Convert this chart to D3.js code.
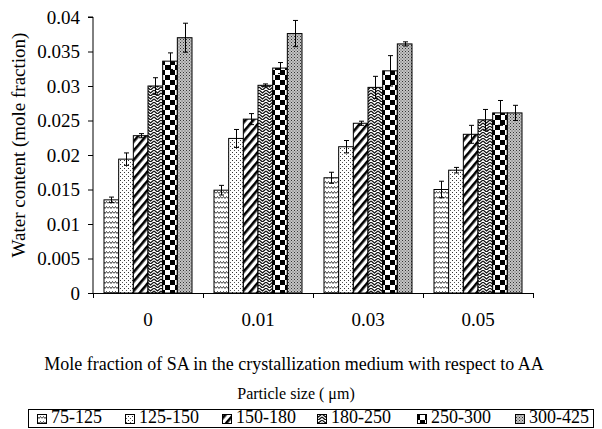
<!DOCTYPE html>
<html>
<head>
<meta charset="utf-8">
<script src="https://cdn.jsdelivr.net/npm/d3@7"></script>
<style>
  body { margin: 0; background: #fff; }
  svg { font-family: "Liberation Serif", "Times New Roman", serif; }
</style>
</head>
<body>
<div id="chart"></div>
<script>
// Data
const categories = ["0", "0.01", "0.03", "0.05"];
const sizes = ["75-125", "125-150", "150-180", "180-250", "250-300", "300-425"];
// water content per particle size, one value per category
const s75 = [0.0135, 0.0149, 0.0167, 0.0150];
const s125 = [0.0194, 0.0224, 0.0212, 0.0178];
const s150 = [0.0228, 0.0252, 0.0246, 0.0230];
const s180 = [0.0300, 0.0301, 0.0298, 0.0251];
const s250 = [0.0336, 0.0326, 0.0322, 0.0261];
const s300 = [0.0370, 0.0376, 0.0361, 0.0261];
// error bar half widths
const e75 = [0.0004, 0.0007, 0.0008, 0.0012];
const e125 = [0.0009, 0.0013, 0.0009, 0.0004];
const e150 = [0.0003, 0.0008, 0.0003, 0.0013];
const e180 = [0.0012, 0.0002, 0.0016, 0.0015];
const e250 = [0.0012, 0.0008, 0.0022, 0.0018];
const e300 = [0.0021, 0.0019, 0.0003, 0.0011];
const yTicks = [0, 0.005, 0.01, 0.015, 0.02, 0.025, 0.03, 0.035, 0.04];
const yTickLabels = ["0", "0.005", "0.01", "0.015", "0.02", "0.025", "0.03", "0.035", "0.04"];

const values = [s75, s125, s150, s180, s250, s300];
const errors = [e75, e125, e150, e180, e250, e300];

const width = 602;
const height = 429;
const margin = { top: 17, left: 93, right: 69, bottom: 136 };

const svg = d3.select("#chart").append("svg")
  .attr("width", width)
  .attr("height", height);

// Fill patterns, one per particle size
const defs = svg.append("defs");

const p1 = defs.append("pattern").attr("id", "pat0")
  .attr("patternUnits", "userSpaceOnUse").attr("width", 6).attr("height", 5);
p1.append("rect").attr("width", 6).attr("height", 5).attr("fill", "#fff");
p1.append("path").attr("d", "M0,3.5 L1.5,1.5 L3,3.5 L4.5,1.5 L6,3.5")
  .attr("fill", "none").attr("stroke", "#222").attr("stroke-width", 0.9);

const p2 = defs.append("pattern").attr("id", "pat1")
  .attr("patternUnits", "userSpaceOnUse").attr("width", 4).attr("height", 4);
p2.append("rect").attr("width", 4).attr("height", 4).attr("fill", "#fff");
p2.append("rect").attr("x", 0).attr("y", 0).attr("width", 1).attr("height", 1).attr("fill", "#333");
p2.append("rect").attr("x", 2).attr("y", 2).attr("width", 1).attr("height", 1).attr("fill", "#555");

const p3 = defs.append("pattern").attr("id", "pat2")
  .attr("patternUnits", "userSpaceOnUse").attr("width", 6).attr("height", 6)
  .attr("patternTransform", "rotate(40)");
p3.append("rect").attr("width", 6).attr("height", 6).attr("fill", "#fff");
p3.append("rect").attr("x", 0).attr("y", 0).attr("width", 2.6).attr("height", 6).attr("fill", "#000");

const p4 = defs.append("pattern").attr("id", "pat3")
  .attr("patternUnits", "userSpaceOnUse").attr("width", 7).attr("height", 6);
p4.append("rect").attr("width", 7).attr("height", 6).attr("fill", "#fff");
p4.append("path").attr("d", "M0,0 L3.5,3 L7,0 M0,3 L3.5,6 L7,3")
  .attr("fill", "none").attr("stroke", "#111").attr("stroke-width", 1.3);

const p5 = defs.append("pattern").attr("id", "pat4")
  .attr("patternUnits", "userSpaceOnUse").attr("width", 10).attr("height", 10);
p5.append("rect").attr("width", 10).attr("height", 10).attr("fill", "#fff");
p5.append("rect").attr("x", 0).attr("y", 0).attr("width", 5).attr("height", 5).attr("fill", "#000");
p5.append("rect").attr("x", 5).attr("y", 5).attr("width", 5).attr("height", 5).attr("fill", "#000");

const p6 = defs.append("pattern").attr("id", "pat5")
  .attr("patternUnits", "userSpaceOnUse").attr("width", 3).attr("height", 3);
p6.append("rect").attr("width", 3).attr("height", 3).attr("fill", "#c4c4c4");
p6.append("rect").attr("x", 0).attr("y", 0).attr("width", 1).attr("height", 1).attr("fill", "#333");
p6.append("rect").attr("x", 1.5).attr("y", 1.5).attr("width", 1).attr("height", 1).attr("fill", "#555");

// Scales
const x0 = d3.scaleBand()
  .domain(categories)
  .range([margin.left, width - margin.right])
  .paddingInner(0.2)
  .paddingOuter(0.1);

const x1 = d3.scaleBand()
  .domain(sizes)
  .range([0, x0.bandwidth()]);

const y = d3.scaleLinear()
  .domain([0, 0.04])
  .range([height - margin.bottom, margin.top]);

// Bars
const rows = [];
categories.forEach((c, ci) => {
  sizes.forEach((s, si) => {
    rows.push({ cat: c, size: s, si: si, v: values[si][ci], e: errors[si][ci] });
  });
});

svg.append("g").selectAll("rect")
  .data(rows)
  .enter()
  .append("rect")
  .attr("x", (d) => x0(d.cat) + x1(d.size))
  .attr("y", (d) => y(d.v))
  .attr("width", x1.bandwidth())
  .attr("height", (d) => y(0) - y(d.v))
  .attr("fill", (d) => `url(#pat${d.si})`)
  .attr("stroke", "#000")
  .attr("stroke-width", 1);

// Error bars
const err = svg.append("g").attr("stroke", "#000").attr("stroke-width", 1);
rows.forEach((d) => {
  const cx = Math.round(x0(d.cat) + x1(d.size) + x1.bandwidth() / 2) + 0.5;
  err.append("line").attr("x1", cx).attr("x2", cx)
    .attr("y1", y(d.v + d.e)).attr("y2", y(d.v - d.e));
  err.append("line").attr("x1", cx - 2.5).attr("x2", cx + 2.5)
    .attr("y1", y(d.v + d.e)).attr("y2", y(d.v + d.e));
  err.append("line").attr("x1", cx - 2.5).attr("x2", cx + 2.5)
    .attr("y1", y(d.v - d.e)).attr("y2", y(d.v - d.e));
});

// Y axis
const yAxis = d3.axisLeft(y)
  .tickValues(yTicks)
  .tickFormat((d, i) => yTickLabels[i])
  .tickSize(5)
  .tickPadding(8);

svg.append("g")
  .attr("transform", `translate(${margin.left}, 0)`)
  .call(yAxis)
  .call((g) => g.select(".domain").attr("d", `M-5,${y(0.04)}H0V${y(0)}`))
  .call((g) => g.selectAll("text")
    .attr("font-family", "Liberation Serif").attr("font-size", 19).attr("fill", "#000"));

// X axis with ticks between the groups
const xAxis = d3.axisBottom(x0).tickSize(0).tickPadding(0);
svg.append("g")
  .attr("transform", `translate(0, ${y(0)})`)
  .call(xAxis)
  .call((g) => g.select(".domain").remove())
  .call((g) => g.selectAll("text")
    .attr("y", 33).attr("dy", 0)
    .attr("font-family", "Liberation Serif").attr("font-size", 19).attr("fill", "#000"));

const half = x0.step() * x0.paddingInner() / 2;
const bounds = categories.map((c) => x0(c) - half).concat([x0(categories[3]) + x0.bandwidth() + half]);
svg.append("line")
  .attr("x1", bounds[0]).attr("x2", bounds[bounds.length - 1])
  .attr("y1", y(0) + 0.5).attr("y2", y(0) + 0.5)
  .attr("stroke", "#000");
svg.append("g").selectAll("line")
  .data(bounds)
  .enter()
  .append("line")
  .attr("x1", (d) => Math.round(d) + 0.5).attr("x2", (d) => Math.round(d) + 0.5)
  .attr("y1", y(0)).attr("y2", y(0) + 5)
  .attr("stroke", "#000");

// Axis titles
svg.append("text")
  .attr("transform", "translate(25, 145) rotate(-90)")
  .attr("text-anchor", "middle")
  .attr("font-size", 19)
  .text("Water content (mole fraction)");

svg.append("text")
  .attr("x", 294).attr("y", 370)
  .attr("text-anchor", "middle")
  .attr("font-size", 18)
  .text("Mole fraction of SA in the crystallization medium with respect to AA");

svg.append("text")
  .attr("x", 296).attr("y", 399)
  .attr("text-anchor", "middle")
  .attr("font-size", 16)
  .text("Particle size ( μm)");

// Legend
const legendX = [37, 125, 222, 317, 417, 515];
const legend = svg.append("g");
legend.append("rect")
  .attr("x", 28.5).attr("y", 409.5)
  .attr("width", 565).attr("height", 18)
  .attr("fill", "none").attr("stroke", "#000");

sizes.forEach((s, i) => {
  legend.append("rect")
    .attr("x", legendX[i] + 0.5).attr("y", 414.5)
    .attr("width", 9).attr("height", 9)
    .attr("fill", `url(#pat${i})`)
    .attr("stroke", "#000");
  legend.append("text")
    .attr("x", legendX[i] + 14).attr("y", 423)
    .attr("font-size", 18)
    .text(s);
});
</script>
</body>
</html>
